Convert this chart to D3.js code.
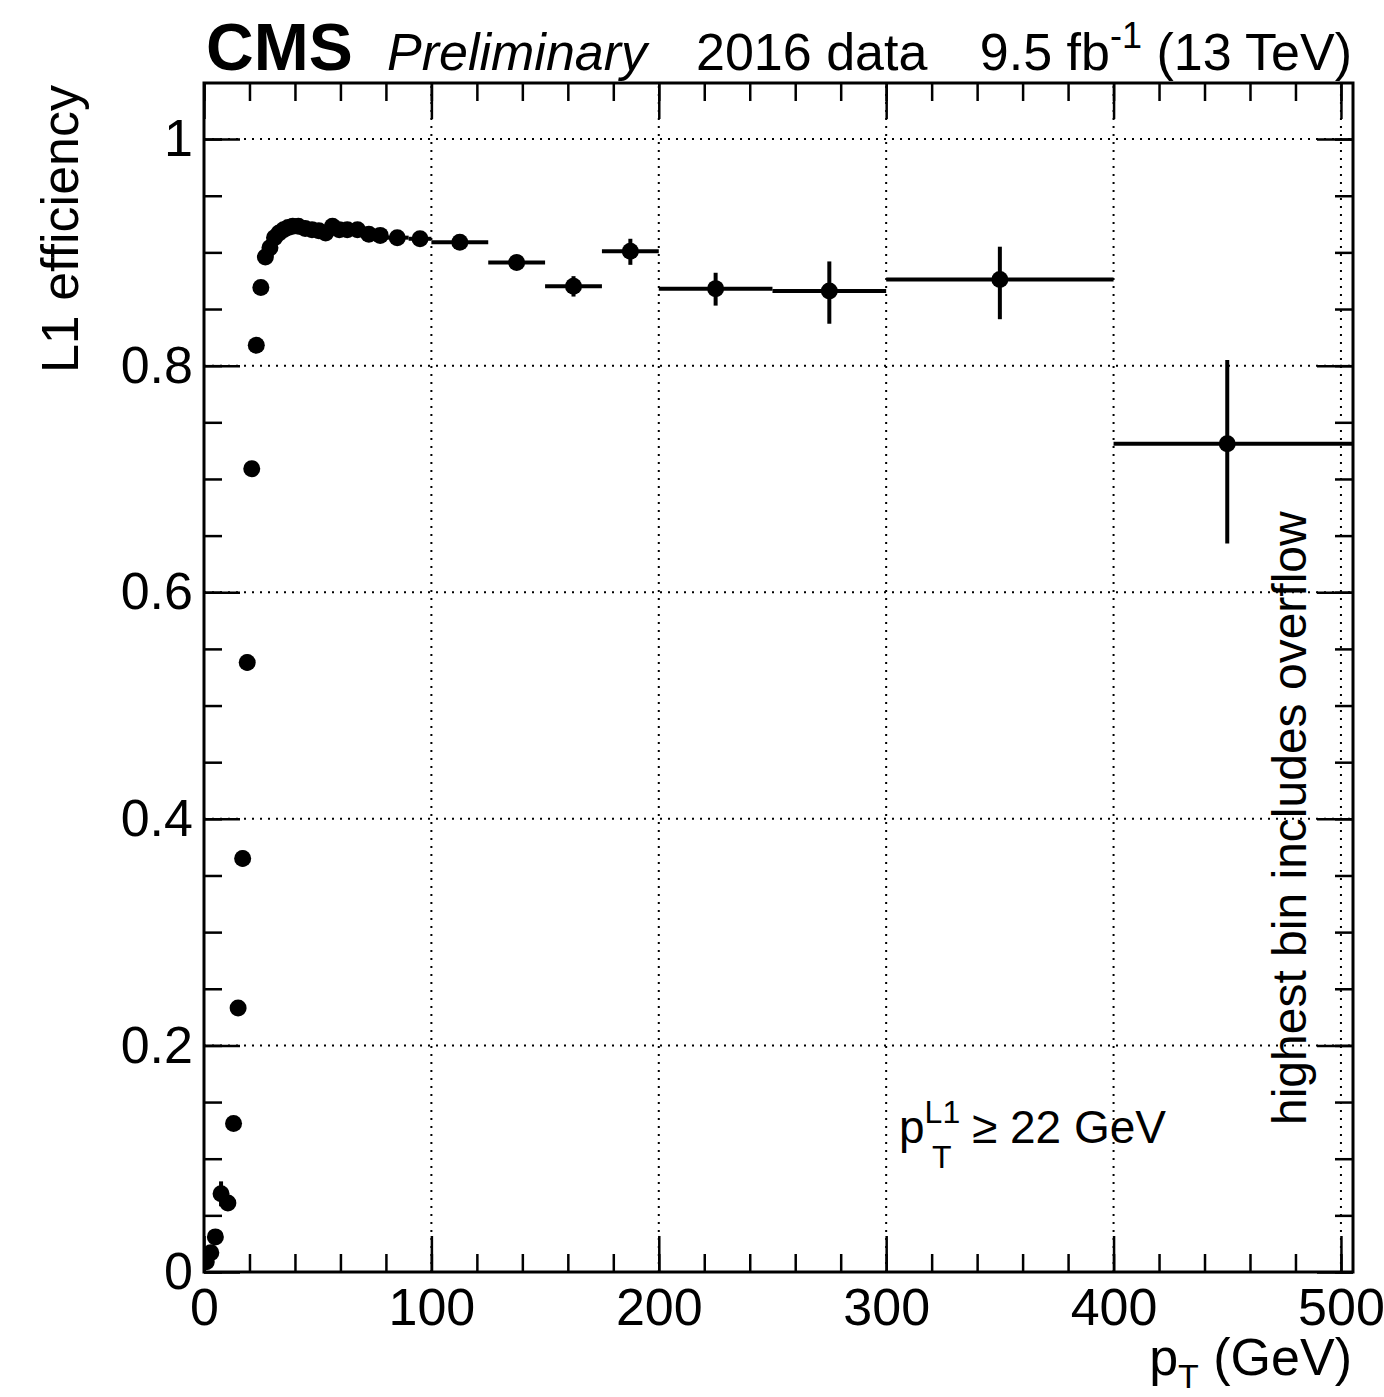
<!DOCTYPE html>
<html>
<head>
<meta charset="utf-8">
<script src="https://cdn.jsdelivr.net/npm/d3@7"></script>
<style>
  body { margin: 0; background: #fff; }
  text { font-family: "Liberation Sans", Arial, Helvetica, sans-serif; fill: #000; }
</style>
</head>
<body>
<script>
const w = 1384;
const h = 1397;
const margin = { left: 204, right: 31, top: 83, bottom: 125 };

// bin edges (GeV) and the point position inside each bin
const binEdges = [0, 2, 4, 6, 9, 12, 14, 16, 18, 20, 22, 24, 26, 28, 30, 32, 34, 36, 38, 40,
                  43, 46, 49, 52, 55, 58, 61, 65, 70, 75, 80, 90, 100, 125, 150, 175, 200,
                  250, 300, 400, 510];
const ptCenters = [1, 3, 5, 7.5, 10.5, 13, 15, 17, 19, 21, 23, 25, 27, 29, 31, 33, 35, 37, 39,
                   41.5, 44.5, 47.5, 50.5, 53.5, 56.5, 59.5, 63, 67.5, 72.5, 77.5, 85, 95,
                   112.5, 137.5, 162.5, 187.5, 225, 275, 350, 450];
const efficiency = [0.009, 0.017, 0.031, 0.069, 0.061, 0.131, 0.233, 0.365, 0.538, 0.709,
                    0.818, 0.869, 0.896, 0.904, 0.913, 0.917, 0.920, 0.922, 0.923, 0.923,
                    0.921, 0.920, 0.919, 0.917, 0.923, 0.920, 0.920, 0.920, 0.916, 0.915,
                    0.913, 0.912, 0.909, 0.891, 0.870, 0.901, 0.868, 0.866, 0.876, 0.731];
const errLow = [0.003, 0.004, 0.005, 0.011, 0.006, 0.006, 0.007, 0.007, 0.007, 0.006,
                0.005, 0.004, 0.003, 0.003, 0.003, 0.003, 0.003, 0.003, 0.003, 0.003,
                0.003, 0.003, 0.003, 0.003, 0.003, 0.003, 0.003, 0.003, 0.003, 0.003,
                0.003, 0.003, 0.004, 0.005, 0.009, 0.012, 0.015, 0.029, 0.035, 0.088];
const errHigh = [0.003, 0.004, 0.005, 0.011, 0.006, 0.006, 0.007, 0.007, 0.007, 0.006,
                 0.005, 0.004, 0.003, 0.003, 0.003, 0.003, 0.003, 0.003, 0.003, 0.003,
                 0.003, 0.003, 0.003, 0.003, 0.003, 0.003, 0.003, 0.003, 0.003, 0.003,
                 0.003, 0.003, 0.004, 0.005, 0.009, 0.011, 0.014, 0.026, 0.029, 0.074];

const xMajor = [0, 100, 200, 300, 400, 500];
const yMajor = [0, 0.2, 0.4, 0.6, 0.8, 1];

const data = ptCenters.map((c, i) => ({
    x: c, lo: binEdges[i], hi: binEdges[i + 1],
    y: efficiency[i], eLo: errLow[i], eHi: errHigh[i]
}));

const xScale = d3.scaleLinear().domain([0, 505.3]).range([margin.left, w - margin.right]);
const yScale = d3.scaleLinear().domain([0, 1.0495]).range([h - margin.bottom, margin.top]);

const svg = d3.select("body").append("svg")
    .attr("width", w).attr("height", h);

svg.append("rect").attr("width", w).attr("height", h).attr("fill", "#fff");

const x0 = margin.left, x1 = w - margin.right, y0 = h - margin.bottom, y1 = margin.top;

// dotted grid
const grid = svg.append("g").attr("stroke", "#000").attr("stroke-width", 2)
    .attr("stroke-dasharray", "2,6");
grid.selectAll(".gx").data(xMajor.filter(d => d > 0)).enter().append("line")
    .attr("x1", d => xScale(d)).attr("x2", d => xScale(d))
    .attr("y1", y0).attr("y2", y1);
grid.selectAll(".gy").data(yMajor.filter(d => d > 0)).enter().append("line")
    .attr("y1", d => yScale(d)).attr("y2", d => yScale(d))
    .attr("x1", x0).attr("x2", x1);

// axes: major + minor ticks on all four sides, pointing inward
const majLen = 36, minLen = 18;
const xMinor = d3.range(0, 505, 20);
const yMinor = d3.range(0, 1.05, 0.05);
const fmtY = d3.format("~g");

function styleAxis(g) {
    g.select(".domain").remove();
    g.selectAll("line").attr("stroke", "#000").attr("stroke-width", 2.5);
    g.selectAll("text").attr("font-size", 52).attr("fill", "#000")
        .attr("font-family", "'Liberation Sans', Arial, Helvetica, sans-serif");
}

svg.append("g").attr("transform", `translate(0,${y0})`)
    .call(d3.axisBottom(xScale).tickValues(xMajor).tickSize(-majLen).tickPadding(16)
        .tickFormat(d3.format("d")))
    .call(styleAxis);
svg.append("g").attr("transform", `translate(0,${y0})`)
    .call(d3.axisBottom(xScale).tickValues(xMinor).tickSize(-minLen).tickFormat(""))
    .call(styleAxis);
svg.append("g").attr("transform", `translate(0,${y1})`)
    .call(d3.axisTop(xScale).tickValues(xMajor).tickSize(-majLen).tickFormat(""))
    .call(styleAxis);
svg.append("g").attr("transform", `translate(0,${y1})`)
    .call(d3.axisTop(xScale).tickValues(xMinor).tickSize(-minLen).tickFormat(""))
    .call(styleAxis);

svg.append("g").attr("transform", `translate(${x0},0)`)
    .call(d3.axisLeft(yScale).tickValues(yMajor).tickSize(-majLen).tickPadding(11)
        .tickFormat(fmtY))
    .call(styleAxis);
svg.append("g").attr("transform", `translate(${x0},0)`)
    .call(d3.axisLeft(yScale).tickValues(yMinor).tickSize(-minLen).tickFormat(""))
    .call(styleAxis);
svg.append("g").attr("transform", `translate(${x1},0)`)
    .call(d3.axisRight(yScale).tickValues(yMajor).tickSize(-majLen).tickFormat(""))
    .call(styleAxis);
svg.append("g").attr("transform", `translate(${x1},0)`)
    .call(d3.axisRight(yScale).tickValues(yMinor).tickSize(-minLen).tickFormat(""))
    .call(styleAxis);

// frame
svg.append("rect")
    .attr("x", x0).attr("y", y1).attr("width", x1 - x0).attr("height", y0 - y1)
    .attr("fill", "none").attr("stroke", "#000").attr("stroke-width", 3);

// data points with error bars
svg.append("clipPath").attr("id", "plotclip").append("rect")
    .attr("x", x0).attr("y", y1).attr("width", x1 - x0).attr("height", y0 - y1);

const pts = svg.append("g").attr("clip-path", "url(#plotclip)");

pts.selectAll(".ex").data(data).enter().append("line")
    .attr("x1", d => xScale(d.lo)).attr("x2", d => xScale(d.hi))
    .attr("y1", d => yScale(d.y)).attr("y2", d => yScale(d.y))
    .attr("stroke", "#000").attr("stroke-width", 4);

pts.selectAll(".ey").data(data).enter().append("line")
    .attr("x1", d => xScale(d.x)).attr("x2", d => xScale(d.x))
    .attr("y1", d => yScale(d.y - d.eLo)).attr("y2", d => yScale(d.y + d.eHi))
    .attr("stroke", "#000").attr("stroke-width", 4);

pts.selectAll("circle").data(data).enter().append("circle")
    .attr("cx", d => xScale(d.x)).attr("cy", d => yScale(d.y))
    .attr("r", 8.5).attr("fill", "#000");

// header
svg.append("text").attr("x", 206).attr("y", 70)
    .attr("font-size", 66).attr("font-weight", "bold").text("CMS");
svg.append("text").attr("x", 387).attr("y", 70)
    .attr("font-size", 52).attr("font-style", "italic").text("Preliminary");
svg.append("text").attr("x", 696).attr("y", 70)
    .attr("font-size", 52).text("2016 data");
const lumi = svg.append("text").attr("x", 1352).attr("y", 70)
    .attr("font-size", 52).attr("text-anchor", "end");
lumi.append("tspan").text("9.5 fb");
lumi.append("tspan").attr("font-size", 36).attr("dy", -22).text("-1");
lumi.append("tspan").attr("dy", 22).text(" (13 TeV)");

// axis titles
svg.append("text")
    .attr("transform", "translate(78,85) rotate(-90)")
    .attr("text-anchor", "end").attr("font-size", 52).text("L1 efficiency");

const xt = svg.append("text").attr("x", 1352).attr("y", 1375)
    .attr("text-anchor", "end").attr("font-size", 52);
xt.append("tspan").text("p");
xt.append("tspan").attr("font-size", 34).attr("dy", 13).text("T");
xt.append("tspan").attr("dy", -13).text(" (GeV)");

// annotations
const thr = svg.append("text").attr("x", 899).attr("y", 1143).attr("font-size", 46);
thr.append("tspan").text("p");
thr.append("tspan").attr("font-size", 32).attr("dy", -20).text("L1");
thr.append("tspan").attr("font-size", 32).attr("x", 932).attr("dy", 45).text("T");
thr.append("tspan").attr("x", 972).attr("dy", -25).text("≥ 22 GeV");

svg.append("text")
    .attr("transform", "translate(1306,1125) rotate(-90)")
    .attr("font-size", 48).text("highest bin includes overflow");
</script>
</body>
</html>
